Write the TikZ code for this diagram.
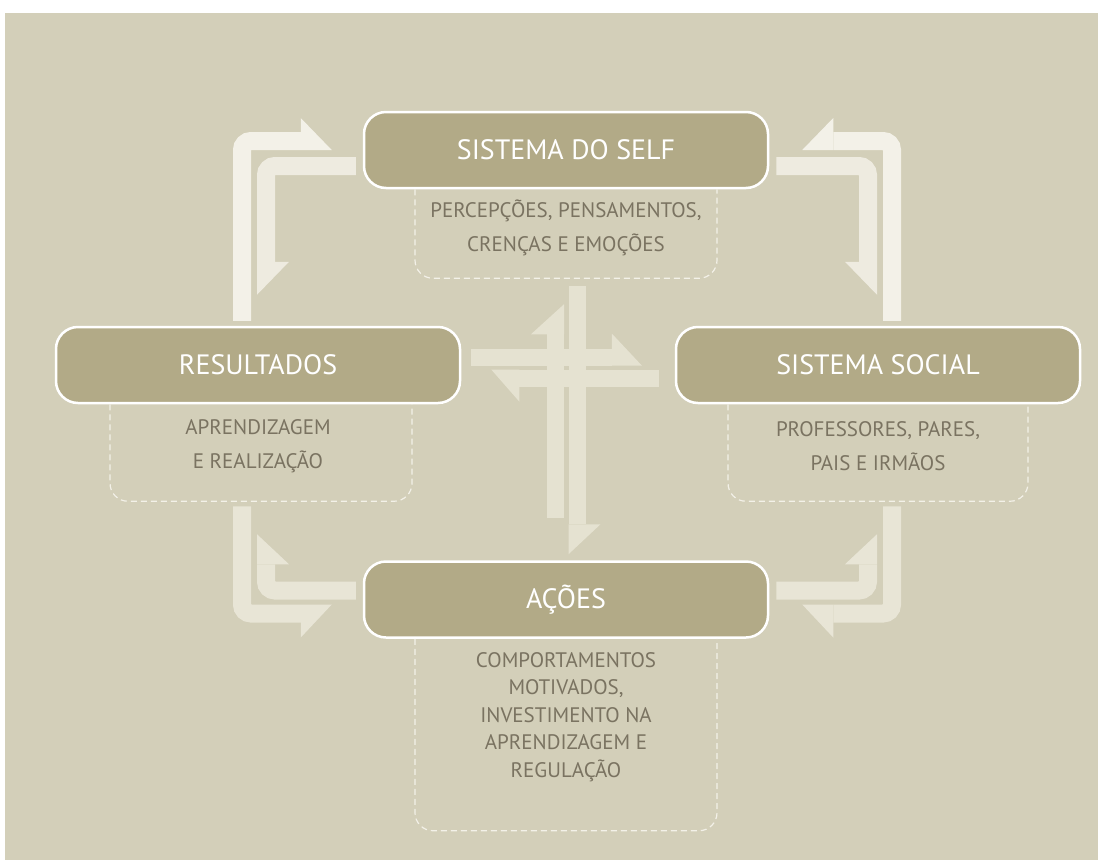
\documentclass[tikz,border=0pt]{standalone}
\usepackage{fontspec}
\setmainfont{PT Sans}
\usepackage{tikz}
\usetikzlibrary{positioning,calc}

\definecolor{bgsand}{HTML}{D3CFB9}
\definecolor{boxolive}{HTML}{B2AA87}
\definecolor{notegrey}{HTML}{7A7361}
\definecolor{arrhi}{HTML}{F3F1E8}
\definecolor{arrmid}{HTML}{EEEBE0}
\definecolor{arrlow}{HTML}{E8E5D6}
\definecolor{arrcross}{HTML}{E5E2D1}
\definecolor{dashwhite}{HTML}{F3F1E8}

\begin{document}
\begin{tikzpicture}[
  x=1pt, y=-1pt,
  head/.style={rectangle,rounded corners=22pt,draw=white,line width=2.5pt,fill=boxolive,
               minimum width=404pt,minimum height=76pt,text=white,
               font=\fontsize{28}{32}\selectfont},
  note/.style={align=center,text=notegrey,font=\fontsize{21}{34}\selectfont},
  frame/.style={draw=dashwhite,line width=1.2pt,dash pattern=on 6pt off 4pt,rounded corners=18pt},
  bar/.style={line width=18pt,rounded corners=9pt},
  xbar/.style={line width=17pt}
]

\useasboundingbox (0,0) rectangle (1098,860);
\fill[bgsand] (5,13) rectangle (1098,860);

% ===================== the four systems =====================
\node[head] (self) at (566,150) {SISTEMA DO SELF};
\node[head,below=371pt of self] (act) {AÇÕES};
\node[head] (res) at (258,365) {RESULTADOS};
\node[head] (soc) at (878,365) {SISTEMA SOCIAL};

% dashed note frames (open at the top, under the heads)
\draw[frame] ([xshift=-151pt]self.south) -- ++(0,89) -- ++(302,0) -- ++(0,-89);
\draw[frame] ([xshift=-148pt]res.south) -- ++(0,97) -- ++(302,0) -- ++(0,-97);
\draw[frame] ([xshift=-150pt]soc.south) -- ++(0,97) -- ++(300,0) -- ++(0,-97);
\draw[frame] ([xshift=-151pt]act.south) -- ++(0,192) -- ++(302,0) -- ++(0,-192);

\node[note] (selfnote) at ([yshift=-39pt]self.south) {PERCEPÇÕES, PENSAMENTOS,\\CRENÇAS E EMOÇÕES};
\node[note] (resnote) at ([yshift=-42pt]res.south) {APRENDIZAGEM\\E REALIZAÇÃO};
\node[note] (socnote) at ([yshift=-42pt]soc.south) {PROFESSORES, PARES,\\PAIS E IRMÃOS};
\node[note,font=\fontsize{21}{27.5}\selectfont] (actnote) at ([yshift=-78pt]act.south)
  {COMPORTAMENTOS\\MOTIVADOS,\\INVESTIMENTO NA\\APRENDIZAGEM E\\REGULAÇÃO};

% ===================== outer loop arrows =====================
% resultados <-> self
\draw[bar,arrhi] ([xshift=-16pt,yshift=5pt]res.north) |- ([xshift=-62pt,yshift=9pt]self.west) coordinate (tlo);
\fill[arrhi] (tlo) ++(0,-23) -- ++(31,32) -- ++(-31,0) -- cycle;
\draw[bar,arrmid] ([xshift=-7pt,yshift=-16pt]self.west) -| ([xshift=8pt,yshift=64pt]res.north) coordinate (tli);
\fill[arrmid] (tli) ++(-9,0) -- ++(32,0) -- ++(-32,33) -- cycle;
% social <-> self
\draw[bar,arrhi] ([xshift=14pt,yshift=5pt]soc.north) |- ([xshift=64pt,yshift=9pt]self.east) coordinate (tro);
\fill[arrhi] (tro) ++(0,-23) -- ++(-31,32) -- ++(31,0) -- cycle;
\draw[bar,arrmid] ([xshift=7pt,yshift=-16pt]self.east) -| ([xshift=-10pt,yshift=64pt]soc.north) coordinate (tri);
\fill[arrmid] (tri) ++(9,0) -- ++(-32,0) -- ++(32,33) -- cycle;
% resultados <-> acoes
\draw[bar,arrlow] ([xshift=-16pt,yshift=-102pt]res.south) |- ([xshift=-62pt,yshift=-14pt]act.west) coordinate (blo);
\fill[arrlow] (blo) ++(0,24) -- ++(31,-33) -- ++(-31,0) -- cycle;
\draw[bar,arrlow] ([xshift=-7pt,yshift=9pt]act.west) -| ([xshift=8pt,yshift=-160pt]res.south) coordinate (bli);
\fill[arrlow] (bli) ++(-9,0) -- ++(32,0) -- ++(-32,-30) -- cycle;
% social <-> acoes
\draw[bar,arrlow] ([xshift=14pt,yshift=-102pt]soc.south) |- ([xshift=64pt,yshift=-14pt]act.east) coordinate (bro);
\fill[arrlow] (bro) ++(0,24) -- ++(-31,-33) -- ++(31,0) -- cycle;
\draw[bar,arrlow] ([xshift=7pt,yshift=9pt]act.east) -| ([xshift=-10pt,yshift=-160pt]soc.south) coordinate (bri);
\fill[arrlow] (bri) ++(9,0) -- ++(-32,0) -- ++(32,-30) -- cycle;

% ===================== central cross =====================
\draw[xbar,arrcross] ([xshift=-11pt,yshift=42pt]act.north) -- ([xshift=-11pt,yshift=-145pt]self.south) coordinate (cu);
\fill[arrcross] (cu) ++(-24,0) -- ++(33,0) -- ++(0,-30) -- cycle;
\draw[xbar,arrcross] ([xshift=11pt,yshift=-97pt]self.south) -- ([xshift=11pt,yshift=36pt]act.north) coordinate (cd);
\fill[arrcross] (cd) ++(-8.5,0) -- ++(32,0) -- ++(-32,30) -- cycle;
\draw[xbar,arrcross] ([xshift=-16pt,yshift=-13pt]soc.west) -- ([xshift=58pt,yshift=-13pt]res.east) coordinate (cl);
\fill[arrcross] (cl) ++(0,-8.5) -- ++(0,32) -- ++(-28,-32) -- cycle;
\draw[xbar,arrcross] ([xshift=10pt,yshift=8pt]res.east) -- ([xshift=-63pt,yshift=8pt]soc.west) coordinate (cr);
\fill[arrcross] (cr) ++(0,8.5) -- ++(0,-32) -- ++(30,32) -- cycle;

\end{tikzpicture}
\end{document}
